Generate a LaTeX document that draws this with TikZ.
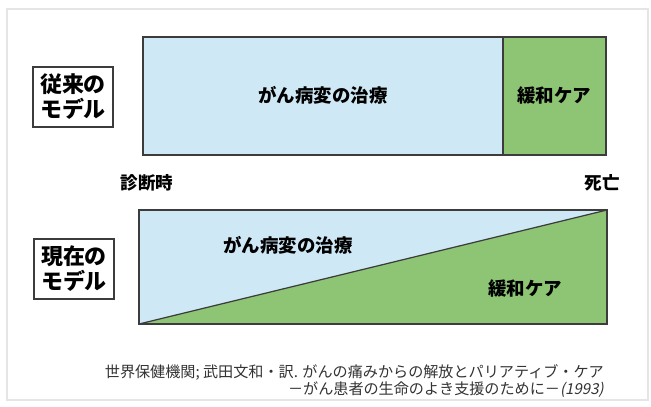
\documentclass[tikz,border=0pt]{standalone}
\usepackage{fontspec}
\setmainfont{Noto Sans CJK JP}
\newfontfamily\slantjp{Noto Sans CJK JP}[FakeSlant=0.2]
\definecolor{cureblue}{RGB}{206,232,245}
\definecolor{caregreen}{RGB}{141,197,117}
\definecolor{lineGray}{RGB}{60,60,60}
\begin{document}
\begin{tikzpicture}[x=0.02cm, y=-0.02cm,
        modelbox/.style={draw=lineGray, line width=0.7pt, minimum width=1.6cm, minimum height=1.2cm, align=left, font=\fontsize{12.5}{14.2}\selectfont\bfseries},
        phase/.style={font=\fontsize{10.5}{12}\selectfont\bfseries},
        timept/.style={font=\fontsize{10}{12}\selectfont\bfseries},
        caption/.style={anchor=east, font=\fontsize{8.6}{10}\selectfont, text=black!80}]
                \useasboundingbox (0,0) rectangle (651,406);
                \draw[gray!20, line width=0.6pt] (7,9) rectangle (648,400);

                % old model
                \fill[cureblue] (143,37) rectangle (503,155);
                \fill[caregreen] (503,37) rectangle (606,155);
                \draw[lineGray, line width=0.7pt] (143,37) rectangle (606,155);
                \draw[lineGray, line width=0.7pt] (503,37) -- (503,155);
                \node[modelbox] (Old) at (73,97) {従来の\\モデル};
                \node[phase] (OldCure) at (323,95) {がん病変の治療};
                \node[phase] (OldCare) at (554,96) {緩和ケア};

                \node[timept] (Diag) at (147,183) {診断時};
                \node[timept] (Death) at (602,183) {死亡};

                % current model
                \fill[cureblue] (139,210) rectangle (607,324);
                \fill[caregreen] (139,324) -- (607,210) -- (607,324) -- cycle;
                \draw[lineGray, line width=0.7pt] (139,324) -- (607,210);
                \draw[lineGray, line width=0.7pt] (139,210) rectangle (607,324);
                \node[modelbox] (New) at (74,269) {現在の\\モデル};
                \node[phase] (NewCure) at (288,245) {がん病変の治療};
                \node[phase] (NewCare) at (525,289) {緩和ケア};

                \node[caption] (Src) at (610,372) {世界保健機関; 武田文和・訳. がんの痛みからの解放とパリアティブ・ケア};
                \node[caption] (SrcB) at (610,390) {－がん患者の生命のよき支援のために－{\slantjp (1993)}};
\end{tikzpicture}
\end{document}
